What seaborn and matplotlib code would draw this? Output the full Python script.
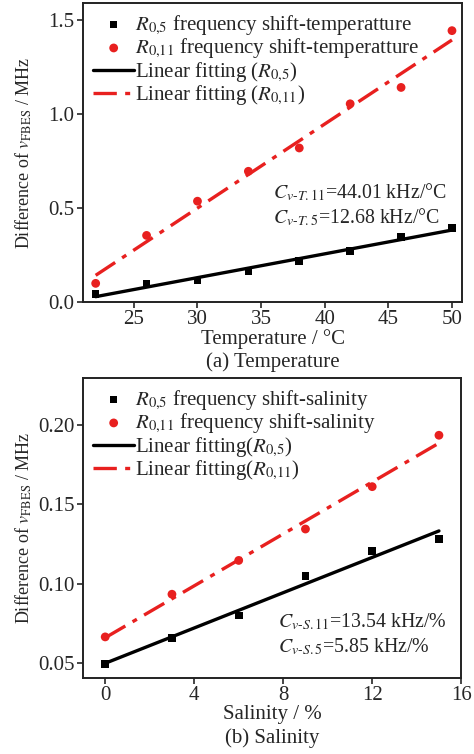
import numpy as np
import pandas as pd
import matplotlib
matplotlib.use("Agg")
import matplotlib.pyplot as plt
import seaborn as sns

# data
temp = [22, 26, 30, 34, 38, 42, 46, 50]
temp_r05 = [0.041, 0.094, 0.115, 0.164, 0.218, 0.271, 0.347, 0.393]
temp_r011 = [0.099, 0.354, 0.536, 0.695, 0.819, 1.054, 1.141, 1.443]

sal = [0, 3, 6, 9, 12, 15]
sal_r05 = [0.0494, 0.0658, 0.0800, 0.1047, 0.1207, 0.1283]
sal_r011 = [0.0664, 0.0933, 0.1146, 0.1344, 0.1611, 0.1935]

temp_ticks = [25, 30, 35, 40, 45, 50]
temp_yticks = [0.0, 0.5, 1.0, 1.5]
sal_ticks = [0, 4, 8, 12, 16]
sal_yticks = [0.05, 0.10, 0.15, 0.20]

sns.set_theme(style="ticks")
plt.rcParams["font.family"] = ["Liberation Serif", "DejaVu Serif"]
plt.rcParams["mathtext.fontset"] = "stix"

RED = "#e8201f"
DASHDOT = (0, (7, 2.5, 1.5, 2.5))
FS = 15

fig = plt.figure(figsize=(4.74, 7.54), dpi=100)
ax1 = fig.add_axes([0.175, 0.5995, 0.800, 0.3965])
ax2 = fig.add_axes([0.175, 0.1008, 0.798, 0.3979])


def fit_line(x, y):
    k, b = np.polyfit(x, y, 1)
    xs = np.array([min(x), max(x)])
    return pd.DataFrame({"x": xs, "y": k * xs + b})


def draw(ax, x, y5, y11, lab_pts, lab_fit):
    f5 = fit_line(x, y5)
    f11 = fit_line(x, y11)
    sns.scatterplot(x=x, y=y5, ax=ax, marker="s", color="black", s=30,
                    edgecolor="none", label=lab_pts[0], zorder=3)
    sns.scatterplot(x=x, y=y11, ax=ax, marker="o", color=RED, s=40,
                    edgecolor="none", label=lab_pts[1], zorder=3)
    sns.lineplot(data=f5, x="x", y="y", ax=ax, color="black", lw=2.4,
                 label=lab_fit[0], zorder=2)
    sns.lineplot(data=f11, x="x", y="y", ax=ax, color=RED, lw=2.4,
                 linestyle=DASHDOT, label=lab_fit[1], zorder=2)
    for s in ax.spines.values():
        s.set_linewidth(1.4)
        s.set_color("#222222")
    ax.tick_params(direction="out", length=4, width=1.2, labelsize=FS,
                   top=False, right=False, pad=2)
    ax.legend(loc="upper left", frameon=False, fontsize=FS, handlelength=1.95,
              handletextpad=0.05, labelspacing=0.0, borderaxespad=0.2,
              borderpad=0.3)
    ax.yaxis.set_label_coords(-0.13, 0.5)


draw(ax1, temp, temp_r05, temp_r011,
     [r"$R_{0{,}5}$ frequency shift-temperatture",
      r"$R_{0{,}11}$ frequency shift-temperatture"],
     [r"Linear fitting ($R_{0{,}5}$)", r"Linear fitting ($R_{0{,}11}$)"])
ax1.set_xlim(21.0, 50.8)
ax1.set_ylim(0, 1.59)
ax1.set_xticks(temp_ticks)
ax1.set_yticks(temp_yticks)
ax1.set_yticklabels([f"{v:.1f}" for v in temp_yticks])
ax1.set_xlabel("Temperature / °C", fontsize=FS, labelpad=0)
ax1.set_ylabel(r"Difference of $v_{\mathrm{FBES}}$ / MHz", fontsize=13)
ax1.text(0.5, -0.20, "(a) Temperature", transform=ax1.transAxes,
         ha="center", va="center", fontsize=FS)
ax1.text(0.50, 0.368, r"$C_{v\text{-}T.11}$=44.01 kHz/°C", transform=ax1.transAxes,
         ha="left", va="center", fontsize=14.3)
ax1.text(0.50, 0.284, r"$C_{v\text{-}T.5}$=12.68 kHz/°C", transform=ax1.transAxes,
         ha="left", va="center", fontsize=14.3)

draw(ax2, sal, sal_r05, sal_r011,
     [r"$R_{0{,}5}$ frequency shift-salinity",
      r"$R_{0{,}11}$ frequency shift-salinity"],
     [r"Linear fitting($R_{0{,}5}$)", r"Linear fitting($R_{0{,}11}$)"])
ax2.set_xlim(-1.0, 16.0)
ax2.set_ylim(0.0405, 0.2296)
ax2.set_xticks(sal_ticks)
ax2.set_yticks(sal_yticks)
ax2.set_yticklabels([f"{v:.2f}" for v in sal_yticks])
ax2.set_xlabel("Salinity / %", fontsize=FS, labelpad=0)
ax2.set_ylabel(r"Difference of $v_{\mathrm{FBES}}$ / MHz", fontsize=13)
ax2.text(0.5, -0.20, "(b) Salinity", transform=ax2.transAxes,
         ha="center", va="center", fontsize=FS)
ax2.text(0.516, 0.187, r"$C_{v\text{-}S.11}$=13.54 kHz/%", transform=ax2.transAxes,
         ha="left", va="center", fontsize=14.3)
ax2.text(0.516, 0.103, r"$C_{v\text{-}S.5}$=5.85 kHz/%", transform=ax2.transAxes,
         ha="left", va="center", fontsize=14.3)

fig.savefig("out.png", dpi=100)
